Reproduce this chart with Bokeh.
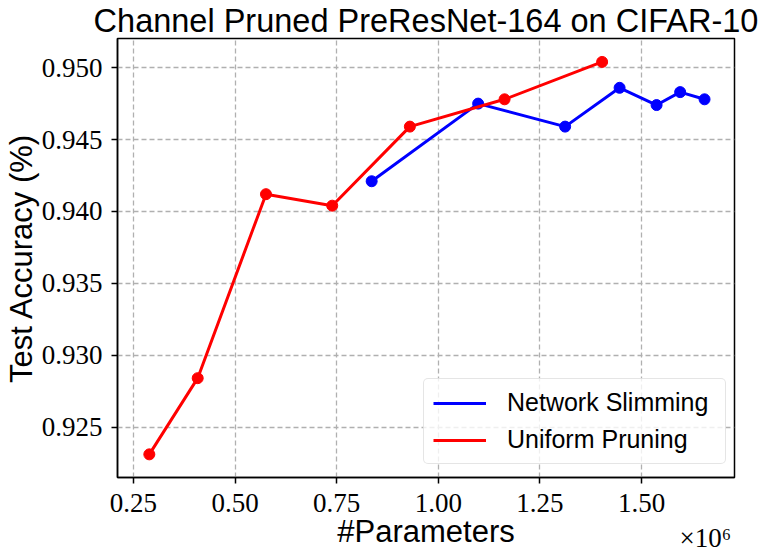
from bokeh.plotting import figure
from bokeh.models import Range1d, FixedTicker, Legend, LegendItem, LinearAxis
from bokeh.embed import file_html
from bokeh.resources import INLINE

# ---- data (x in units of 1e6 parameters) ----
ns_params = [0.836, 1.098, 1.312, 1.446, 1.537, 1.595, 1.655]
ns_acc = [0.9421, 0.9475, 0.9459, 0.9486, 0.9474, 0.9483, 0.9478]

up_params = [0.289, 0.408, 0.576, 0.739, 0.930, 1.163, 1.403]
up_acc = [0.9231, 0.9284, 0.9412, 0.9404, 0.9459, 0.9478, 0.9504]

x_ticks = [0.25, 0.50, 0.75, 1.00, 1.25, 1.50]
x_tick_labels = ["0.25", "0.50", "0.75", "1.00", "1.25", "1.50"]
y_ticks = [0.925, 0.930, 0.935, 0.940, 0.945, 0.950]
y_tick_labels = ["0.925", "0.930", "0.935", "0.940", "0.945", "0.950"]
offset_text = "\u00d710\u2076"
offset_anchor = [1.657]

title_text = "Channel Pruned PreResNet-164 on CIFAR-10"
x_label = "#Parameters"
y_label = "Test Accuracy (%)"
series_names = ["Network Slimming", "Uniform Pruning"]

SANS = "Liberation Sans"
SERIF = "Liberation Serif"

p = figure(
    width=761, height=551,
    min_border_left=117, min_border_right=27,
    min_border_top=38, min_border_bottom=73,
    x_range=Range1d(0.2107, 1.7287),
    y_range=Range1d(0.92149, 0.95203),
    output_backend="svg", toolbar_location=None,
    title=title_text,
)
p.background_fill_color = "white"
p.border_fill_color = "white"
p.outline_line_color = "black"
p.outline_line_width = 1.5
p.outline_line_alpha = 1.0

p.title.text_font = SANS
p.title.text_font_size = "32.5px"
p.title.text_font_style = "normal"
p.title.text_color = "black"
p.title.align = "center"
p.title.standoff = 0
p.title.offset = 0

# main axes
xa = p.below[0]
ya = p.left[0]
xa.ticker = FixedTicker(ticks=x_ticks)
ya.ticker = FixedTicker(ticks=y_ticks)
xa.major_label_overrides = {t: l for t, l in zip(x_ticks, x_tick_labels)}
ya.major_label_overrides = {t: l for t, l in zip(y_ticks, y_tick_labels)}
for ax in (xa, ya):
    ax.axis_line_color = "black"
    ax.axis_line_width = 1.5
    ax.major_tick_out = 6
    ax.major_tick_in = 0
    ax.major_tick_line_color = "black"
    ax.major_tick_line_width = 1.5
    ax.minor_tick_line_color = None
    ax.major_label_text_font = SERIF
    ax.major_label_text_font_size = "27px"
    ax.major_label_text_color = "black"
    ax.axis_label_text_font = SANS
    ax.axis_label_text_font_style = "normal"
    ax.axis_label_text_color = "black"
xa.major_label_standoff = 10
ya.major_label_standoff = 9
ya.axis_label = y_label
ya.axis_label_text_font_size = "31px"
ya.axis_label_standoff = 0

# second bottom axis: carries the x10^6 offset text and the x label
xb = LinearAxis(ticker=FixedTicker(ticks=offset_anchor),
                major_label_overrides={offset_anchor[0]: offset_text})
xb.axis_line_color = None
xb.major_tick_line_color = None
xb.minor_tick_line_color = None
xb.major_tick_out = 0
xb.major_tick_in = 0
xb.major_label_standoff = 8
xb.major_label_text_font = SERIF
xb.major_label_text_font_size = "27px"
xb.major_label_text_color = "black"
xb.axis_label = x_label
xb.axis_label_text_font = SANS
xb.axis_label_text_font_style = "normal"
xb.axis_label_text_font_size = "31px"
xb.axis_label_text_color = "black"
xb.axis_label_standoff = -42
p.add_layout(xb, "below")

# grid (follows the main axes' tickers)
for g in (p.xgrid, p.ygrid):
    g.grid_line_color = "#b0b0b0"
    g.grid_line_width = 1.3
    g.grid_line_dash = "5 3"
p.xgrid.ticker = xa.ticker
p.ygrid.ticker = ya.ticker

# series
r_ns = p.line(ns_params, ns_acc, line_color="blue", line_width=3)
p.scatter(ns_params, ns_acc, size=11, fill_color="blue", line_color="blue")
r_up = p.line(up_params, up_acc, line_color="red", line_width=3)
p.scatter(up_params, up_acc, size=11, fill_color="red", line_color="red")

legend = Legend(
    items=[LegendItem(label=series_names[0], renderers=[r_ns]),
           LegendItem(label=series_names[1], renderers=[r_up])],
    location=(306, 13),
    label_text_font=SANS, label_text_font_size="25px",
    label_text_color="black",
    glyph_width=53, glyph_height=28, label_height=28, label_width=209,
    label_standoff=21, spacing=8, padding=9, margin=0,
    border_line_color="#cccccc", border_line_width=1,
    background_fill_color="white", background_fill_alpha=0.8,
)
if "border_radius" in Legend.properties():
    legend.border_radius = 5
p.add_layout(legend, "center")

open("out.html", "w").write(file_html(p, INLINE))
